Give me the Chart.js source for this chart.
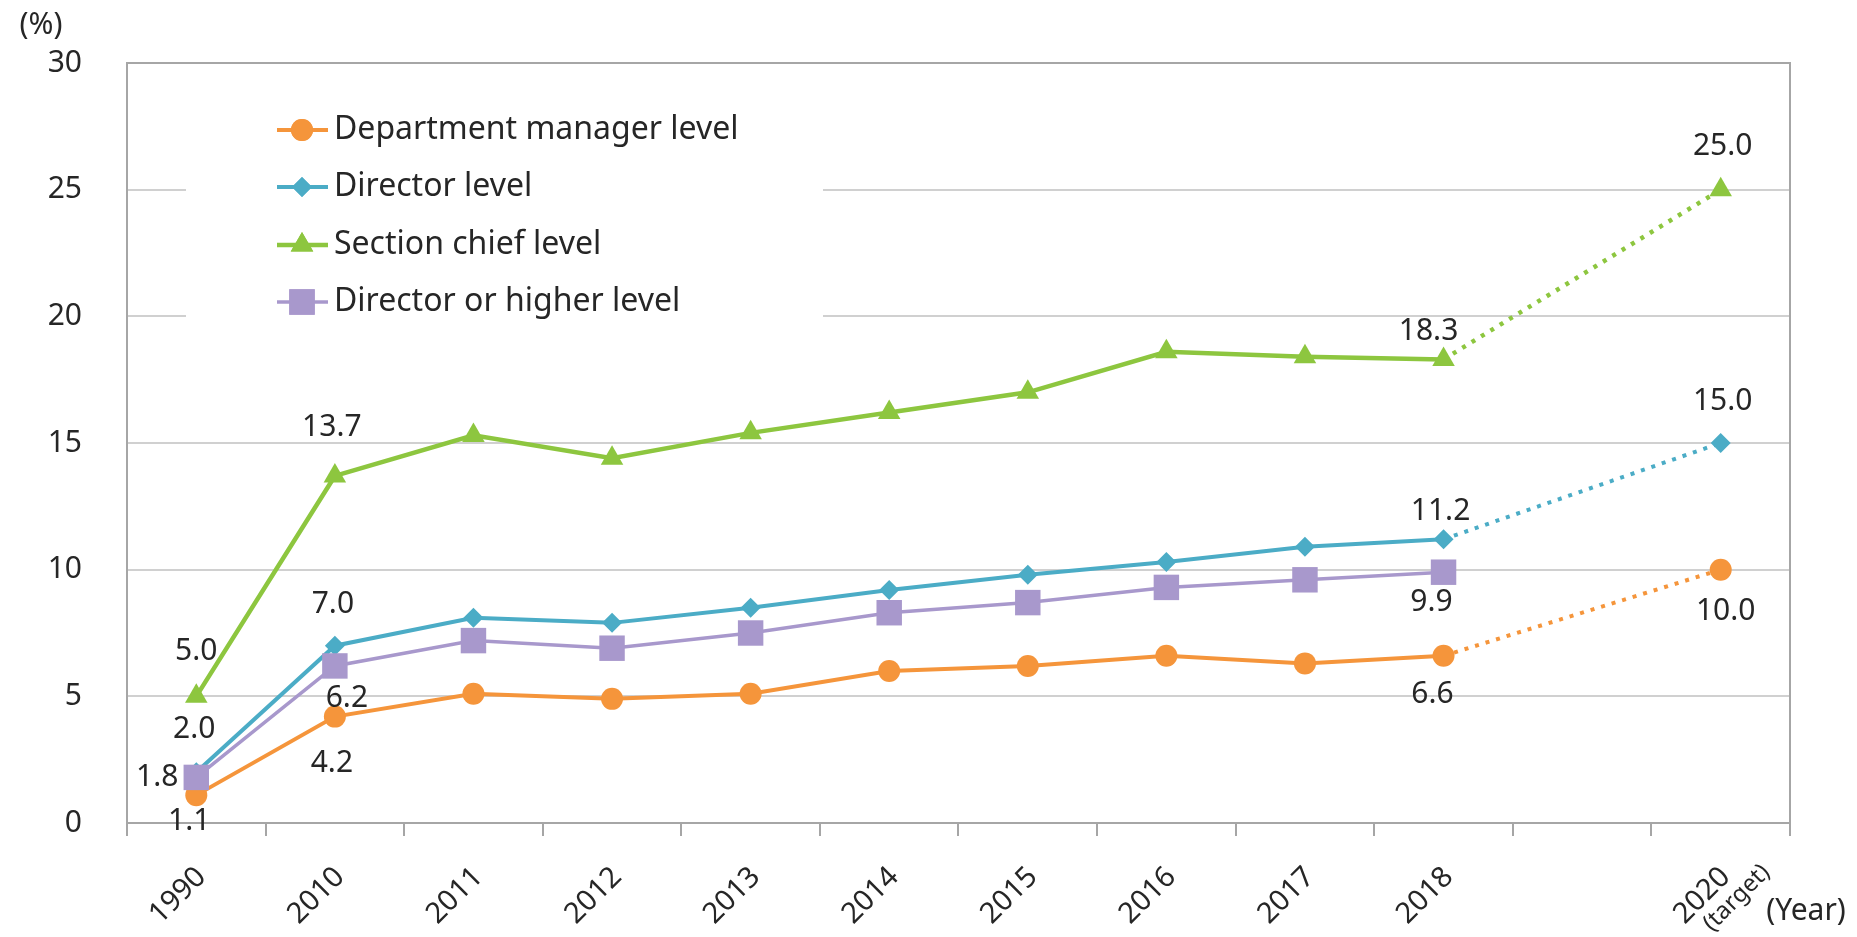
<!DOCTYPE html>
<html>
<head>
<meta charset="utf-8">
<script src="https://cdn.jsdelivr.net/npm/chart.js@4.4.1/dist/chart.umd.min.js"></script>
<style>
  body { margin: 0; background: #fff; }
  canvas { display: block; }
</style>
</head>
<body>
<canvas id="chart" width="1857" height="937"></canvas>
<script>
// Chart data
const years = ['1990', '2010', '2011', '2012', '2013', '2014', '2015', '2016', '2017', '2018', '', '2020'];
const deptManager = [1.1, 4.2, 5.1, 4.9, 5.1, 6.0, 6.2, 6.6, 6.3, 6.6, null, 10.0];
const director = [2.0, 7.0, 8.1, 7.9, 8.5, 9.2, 9.8, 10.3, 10.9, 11.2, null, 15.0];
const sectionChief = [5.0, 13.7, 15.3, 14.4, 15.4, 16.2, 17.0, 18.6, 18.4, 18.3, null, 25.0];
const directorOrHigher = [1.8, 6.2, 7.2, 6.9, 7.5, 8.3, 8.7, 9.3, 9.6, 9.9, null, null];
const yMin = 0, yMax = 30, yStep = 5;

const FONT = '"Noto Sans", "Open Sans", sans-serif';
const TEXT = '#262626';

// dotted line from 2018 to the 2020 target (the segment spans the empty 2019 slot)
const targetDash = ctx => ctx.p1DataIndex === 11 ? [4, 7] : undefined;

function series(label, data, color, style, radius, width, order) {
    return {
        label: label,
        data: data,
        borderColor: color,
        backgroundColor: color,
        pointBackgroundColor: color,
        pointBorderColor: color,
        pointStyle: style,
        pointRadius: radius,
        pointHoverRadius: radius,
        pointBorderWidth: 0,
        borderWidth: width,
        spanGaps: true,
        order: order,
        segment: { borderDash: targetDash }
    };
}

// value labels: which series / point, and where the text sits
const labelSpots = [
    { ds: 2, i: 0, dx: 0, dy: -45 }, { ds: 2, i: 1, dx: -3, dy: -48 },
    { ds: 2, i: 9, dx: -15, dy: -28 }, { ds: 2, i: 11, dx: 2, dy: -43 },
    { ds: 1, i: 0, dx: -2, dy: -43 }, { ds: 1, i: 1, dx: -2, dy: -41 },
    { ds: 1, i: 9, dx: -3, dy: -28 }, { ds: 1, i: 11, dx: 2, dy: -42 },
    { ds: 3, i: 0, dx: -39, dy: 0 }, { ds: 3, i: 1, dx: 12, dy: 33 },
    { ds: 3, i: 9, dx: -12, dy: 30 },
    { ds: 0, i: 0, dx: -7, dy: 26 }, { ds: 0, i: 1, dx: -3, dy: 47 },
    { ds: 0, i: 9, dx: -11, dy: 39 }, { ds: 0, i: 11, dx: 5, dy: 42 }
];

const framePlugin = {
    id: 'frame',
    beforeDatasetsDraw(chart) {
        const { ctx, chartArea: a } = chart;
        ctx.save();
        ctx.strokeStyle = '#a6a6a6';
        ctx.lineWidth = 2;
        ctx.strokeRect(a.left, a.top, a.right - a.left, a.bottom - a.top);

        // legend box sits over the grid
        ctx.fillStyle = '#ffffff';
        ctx.fillRect(186, 96, 637, 222);
        ctx.restore();
    }
};

const legendPlugin = {
    id: 'insideLegend',
    afterDatasetsDraw(chart) {
        const ctx = chart.ctx;
        const rows = [130, 187, 245, 302];
        ctx.save();
        chart.data.datasets.forEach((ds, k) => {
            const y = rows[k];
            ctx.strokeStyle = ds.borderColor;
            ctx.lineWidth = ds.borderWidth;
            ctx.beginPath();
            ctx.moveTo(277, y);
            ctx.lineTo(328, y);
            ctx.stroke();
            ctx.fillStyle = ds.pointBackgroundColor;
            Chart.helpers.drawPoint(ctx, {
                pointStyle: ds.pointStyle, radius: ds.pointRadius, borderWidth: 0, rotation: 0
            }, 302, y);
            ctx.fill();
            ctx.fillStyle = TEXT;
            ctx.font = '32px ' + FONT;
            ctx.textAlign = 'left';
            ctx.textBaseline = 'middle';
            ctx.fillText(ds.label, 334, y);
        });
        ctx.restore();
    }
};

const valueLabelPlugin = {
    id: 'valueLabels',
    afterDatasetsDraw(chart) {
        const ctx = chart.ctx;
        ctx.save();
        ctx.fillStyle = TEXT;
        ctx.font = '30px ' + FONT;
        ctx.textAlign = 'center';
        ctx.textBaseline = 'middle';
        labelSpots.forEach(s => {
            const pt = chart.getDatasetMeta(s.ds).data[s.i];
            const v = chart.data.datasets[s.ds].data[s.i];
            ctx.fillText(v.toFixed(1), pt.x + s.dx, pt.y + s.dy);
        });
        ctx.restore();
    }
};

const axisTextPlugin = {
    id: 'axisText',
    afterDraw(chart) {
        const ctx = chart.ctx;
        const xs = chart.scales.x;
        ctx.save();
        ctx.fillStyle = TEXT;
        ctx.font = '30px ' + FONT;
        ctx.textAlign = 'center';
        ctx.textBaseline = 'middle';
        ctx.fillText('(%)', 41, 25);
        ctx.fillText('(Year)', 1806, 911);

        // small "(target)" under the 2020 tick label
        ctx.translate(xs.getPixelForTick(11) + 16, xs.top + 75);
        ctx.rotate(-Math.PI / 4);
        ctx.font = '24px ' + FONT;
        ctx.fillText('(target)', 0, 0);
        ctx.restore();
    }
};

new Chart(document.getElementById('chart'), {
    type: 'line',
    data: {
        labels: years,
        datasets: [
            series('Department manager level', deptManager, '#F5953B', 'circle', 11, 4, 4),
            series('Director level', director, '#4BACC6', 'rectRot', 10, 4, 3),
            series('Section chief level', sectionChief, '#8DC63F', 'triangle', 13, 4.5, 2),
            series('Director or higher level', directorOrHigher, '#A898CC', 'rect', 18, 3.5, 1)
        ]
    },
    options: {
        responsive: false,
        animation: false,
        layout: { padding: { top: 63, right: 67, left: 0, bottom: 0 } },
        plugins: {
            legend: { display: false },
            tooltip: { enabled: false }
        },
        scales: {
            x: {
                offset: true,
                afterFit(scale) { scale.height = 114; },
                border: { display: false },
                grid: {
                    offset: true,
                    drawOnChartArea: false,
                    drawTicks: true,
                    tickLength: 13,
                    color: '#a6a6a6',
                    lineWidth: 2
                },
                ticks: {
                    autoSkip: false,
                    maxRotation: 45,
                    minRotation: 45,
                    padding: 24,
                    labelOffset: 5,
                    color: TEXT,
                    font: { family: FONT, size: 29 }
                }
            },
            y: {
                min: yMin,
                max: yMax,
                afterFit(scale) { scale.width = 127; },
                border: { display: false },
                grid: {
                    color: '#d0d0d0',
                    lineWidth: 2,
                    drawTicks: false
                },
                ticks: {
                    stepSize: yStep,
                    padding: 45,
                    color: TEXT,
                    font: { family: FONT, size: 30 }
                }
            }
        }
    },
    plugins: [framePlugin, legendPlugin, valueLabelPlugin, axisTextPlugin]
});
</script>
</body>
</html>
